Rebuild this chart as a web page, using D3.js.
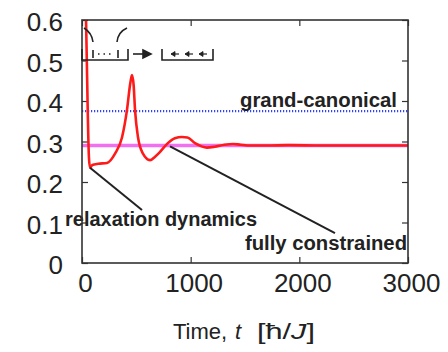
<!DOCTYPE html>
<html>
<head>
<meta charset="utf-8">
<script src="https://cdn.jsdelivr.net/npm/d3@7"></script>
<style>
  body { margin: 0; background: #fff; }
  svg text { font-family: 'Liberation Sans', Arial, sans-serif; fill: #222; }
</style>
</head>
<body>
<div id="chart"></div>
<script>
// red curve: time, order parameter
const times = [0, 37, 64, 74, 95, 150, 230, 304, 368, 414, 445, 460, 475, 488, 515, 561, 626, 670, 710, 790, 855, 920, 970, 1040, 1100, 1150, 1220, 1310, 1390, 1460, 1550, 1700, 1900, 2200, 2500, 2800, 3000];
const values = [1.0, 0.6, 0.26, 0.235, 0.242, 0.245, 0.247, 0.27, 0.31, 0.378, 0.445, 0.464, 0.44, 0.378, 0.311, 0.27, 0.254, 0.262, 0.272, 0.296, 0.308, 0.311, 0.310, 0.296, 0.288, 0.285, 0.287, 0.292, 0.294, 0.292, 0.290, 0.290, 0.291, 0.290, 0.290, 0.290, 0.290];
const grandCanonical = 0.375;
const fullyConstrained = 0.29;
const xTicks = [0, 1000, 2000, 3000];
const yTicks = [0, 0.1, 0.2, 0.3, 0.4, 0.5, 0.6];
const yTickLabels = ['0', '0.1', '0.2', '0.3', '0.4', '0.5', '0.6'];

const width = 448, height = 352;
const margin = { top: 20, right: 40, bottom: 89, left: 82 };

const svg = d3.select('#chart').append('svg')
    .attr('width', width)
    .attr('height', height);

const x = d3.scaleLinear().domain([0, 3000]).range([margin.left, width - margin.right]);
const y = d3.scaleLinear().domain([0, 0.6]).range([height - margin.bottom, margin.top]);

svg.append('clipPath').attr('id', 'clip')
    .append('rect')
    .attr('x', margin.left).attr('y', margin.top)
    .attr('width', width - margin.left - margin.right)
    .attr('height', height - margin.top - margin.bottom);

// axes, ticks pointing inward
const tickStyle = g => {
    g.select('.domain').remove();
    g.selectAll('.tick line').attr('stroke', '#333').attr('stroke-width', 1.2);
    g.selectAll('.tick text').style('font-size', '26px').attr('fill', '#222');
};

svg.append('g')
    .attr('transform', 'translate(' + margin.left + ',0)')
    .call(d3.axisLeft(y).tickValues(yTicks).tickSize(-6).tickPadding(19)
        .tickFormat((d, i) => yTickLabels[i]))
    .call(tickStyle)
    .selectAll('.tick text').attr('dy', '0.42em');

svg.append('g')
    .attr('transform', 'translate(0,' + (height - margin.bottom) + ')')
    .call(d3.axisBottom(x).tickValues(xTicks).tickSize(-6).tickPadding(11)
        .tickFormat(d3.format('d')))
    .call(tickStyle)
    .selectAll('.tick text').attr('dx', 3);

svg.append('g')
    .attr('transform', 'translate(0,' + margin.top + ')')
    .call(d3.axisTop(x).tickValues(xTicks).tickSize(-6).tickFormat(''))
    .call(tickStyle);

svg.append('g')
    .attr('transform', 'translate(' + (width - margin.right) + ',0)')
    .call(d3.axisRight(y).tickValues(yTicks).tickSize(-6).tickFormat(''))
    .call(tickStyle);

const plot = svg.append('g').attr('clip-path', 'url(#clip)');

// reference levels
plot.append('line')
    .attr('x1', x(0)).attr('x2', x(3000))
    .attr('y1', y(fullyConstrained)).attr('y2', y(fullyConstrained))
    .attr('stroke', '#f070f0').attr('stroke-width', 3.5);

plot.append('line')
    .attr('x1', x(0)).attr('x2', x(3000))
    .attr('y1', y(grandCanonical)).attr('y2', y(grandCanonical))
    .attr('stroke', '#3344ff').attr('stroke-width', 2.2)
    .attr('stroke-dasharray', '1.2,1.8');

const line = d3.line()
    .x((d, i) => x(times[i]))
    .y(d => y(d))
    .curve(d3.curveMonotoneX);

plot.append('path')
    .datum(values)
    .attr('fill', 'none')
    .attr('stroke', '#ff1a1a')
    .attr('stroke-width', 2.6)
    .attr('stroke-linejoin', 'round')
    .attr('d', line);

// annotation pointers
const pointers = [
    { from: [74, 0.235], to: [552, 0.131] },
    { from: [810, 0.288], to: [2328, 0.074] }
];
svg.selectAll('.pointer').data(pointers).enter()
    .append('line')
    .attr('class', 'pointer')
    .attr('x1', d => x(d.from[0])).attr('y1', d => y(d.from[1]))
    .attr('x2', d => x(d.to[0])).attr('y2', d => y(d.to[1]))
    .attr('stroke', '#222').attr('stroke-width', 2);

const labels = [
    { text: 'grand-canonical', x: 240, y: 107, len: 157 },
    { text: 'relaxation dynamics', x: 65, y: 226, len: 192 },
    { text: 'fully constrained', x: 245, y: 250, len: 162 }
];
svg.selectAll('.note').data(labels).enter()
    .append('text')
    .attr('class', 'note')
    .attr('x', d => d.x).attr('y', d => d.y)
    .attr('textLength', d => d.len)
    .attr('lengthAdjust', 'spacingAndGlyphs')
    .style('font-size', '20px').style('font-weight', 'bold')
    .text(d => d.text);

// x axis title
const title = svg.append('text')
    .attr('x', 173).attr('y', 339)
    .style('font-size', '22px');
title.append('tspan').text('Time,');
title.append('tspan').attr('x', 235).style('font-style', 'italic').text('t');
const unit = svg.append('text')
    .attr('x', 257).attr('y', 339)
    .attr('textLength', 58)
    .attr('lengthAdjust', 'spacingAndGlyphs')
    .style('font-size', '22px');
unit.append('tspan').text('[ħ/');
unit.append('tspan').style('font-style', 'italic').text('J');
unit.append('tspan').text(']');

// frame
svg.append('rect')
    .attr('x', margin.left).attr('y', margin.top)
    .attr('width', width - margin.left - margin.right)
    .attr('height', height - margin.top - margin.bottom)
    .attr('fill', 'none').attr('stroke', '#333').attr('stroke-width', 1.6);

// inset sketch: two traps -> one trap
const sk = svg.append('g').attr('fill', 'none').attr('stroke', '#222').attr('stroke-width', 1.6);
sk.append('path').attr('d', 'M82,49 V60 H128 V49');
sk.append('path').attr('d', 'M93,50 V58 M118,50 V58');
sk.append('path').attr('d', 'M98,54 H114').attr('stroke-dasharray', '1.5,4');
sk.append('path').attr('d', 'M84,28 Q92,33 93,42');
sk.append('path').attr('d', 'M127,28 Q118,32 117,42');
sk.append('path').attr('d', 'M133,54 H144');
sk.append('path').attr('d', 'M143,50 L151,54 L143,58 Z').attr('fill', '#222');
sk.append('path').attr('d', 'M162,49 V60 H213 V49');
[171, 185, 199].forEach(ax => {
    sk.append('path').attr('d', 'M' + (ax + 8) + ',54 H' + ax).attr('stroke-width', 1.2);
    sk.append('path').attr('d', 'M' + (ax + 4) + ',51.5 L' + ax + ',54 L' + (ax + 4) + ',56.5 Z')
        .attr('fill', '#222').attr('stroke-width', 0.8);
});
</script>
</body>
</html>
